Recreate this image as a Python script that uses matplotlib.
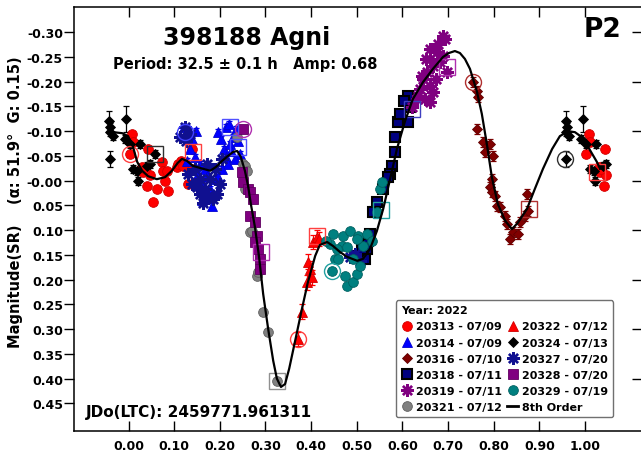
import matplotlib
matplotlib.use("Agg")
import matplotlib.pyplot as plt
from matplotlib.lines import Line2D
import numpy as np

plt.rcParams["font.family"] = "DejaVu Sans"
plt.rcParams["font.weight"] = "bold"
plt.rcParams["axes.unicode_minus"] = False

# ---------------------------------------------------------------------
#  Data (phase, reduced magnitude)
# ---------------------------------------------------------------------
# 20313 - 07/09 (red circles)
s20313_x = [0.003, 0.008, 0.010, 0.030, 0.032, 0.041, 0.043, 0.047, 0.054, 0.062, 0.073, 0.076,
            0.080, 0.084, 0.087, 0.106, 0.108, 0.115, 0.130, 0.139, 0.139, 0.036, 0.120]
s20313_y = [-0.054, -0.094, -0.078, -0.028, -0.018, 0.011, -0.064, -0.012, 0.043, 0.017, -0.038, -0.020,
            0.001, -0.020, 0.021, -0.028, -0.034, -0.040, 0.007, -0.064, -0.024, -0.024, -0.030]

# 20314 - 07/09 (blue triangles)
s20314_x = [0.196, 0.203, 0.209, 0.214, 0.218, 0.205, 0.222, 0.229, 0.235, 0.240, 0.244, 0.214, 0.220,
            0.192, 0.183, 0.196, 0.233, 0.135, 0.146, 0.157, 0.168, 0.152, 0.139, 0.130, 0.122, 0.148,
            0.128, 0.163, 0.179, 0.225, 0.188, 0.172, 0.160]
s20314_y = [-0.098, -0.084, -0.064, -0.048, -0.034, -0.024, -0.074, -0.088, -0.104, -0.080, -0.054, -0.108, -0.115,
            -0.003, 0.051, -0.007, -0.044, -0.064, -0.048, -0.034, -0.024, -0.014, -0.084, -0.094, -0.108, -0.100,
            -0.040, 0.007, 0.017, -0.060, 0.030, -0.010, 0.040]

# 20316 - 07/10 (dark red diamonds)
s20316_x = [0.755, 0.763, 0.766, 0.763, 0.777, 0.785, 0.792, 0.781, 0.798, 0.796, 0.792, 0.796,
            0.803, 0.807, 0.814, 0.825, 0.829, 0.842, 0.853, 0.836, 0.858, 0.869, 0.873, 0.875]
s20316_y = [-0.199, -0.181, -0.169, -0.104, -0.078, -0.070, -0.074, -0.058, -0.050, -0.003, 0.013, 0.023,
            0.031, 0.051, 0.053, 0.071, 0.087, 0.104, 0.108, 0.118, 0.083, 0.071, 0.027, 0.061]

# 20318 - 07/11 (navy squares)
s20318_x = [0.612, 0.617, 0.590, 0.612, 0.584, 0.584, 0.577, 0.573, 0.569, 0.544, 0.540, 0.536,
            0.525, 0.522, 0.518, 0.503, 0.511, 0.529, 0.558, 0.595, 0.604]
s20318_y = [-0.171, -0.149, -0.119, -0.119, -0.088, -0.058, -0.030, -0.014, -0.007, 0.043, 0.063, 0.063,
            0.122, 0.138, 0.158, 0.152, 0.138, 0.108, 0.017, -0.135, -0.161]

# 20319 - 07/11 (purple asterisks)
s20319_x = [0.689, 0.660, 0.676, 0.654, 0.667, 0.682, 0.698, 0.645, 0.660, 0.667, 0.639, 0.632,
            0.650, 0.660, 0.634, 0.693, 0.689, 0.643, 0.660, 0.678, 0.652, 0.674, 0.621]
s20319_y = [-0.292, -0.266, -0.260, -0.220, -0.232, -0.240, -0.220, -0.205, -0.191, -0.179, -0.185, -0.165,
            -0.165, -0.159, -0.171, -0.286, -0.252, -0.212, -0.246, -0.276, -0.246, -0.205, -0.149]

# 20321 - 07/12 (gray circles)
s20321_x = [0.238, 0.251, 0.255, 0.260, 0.255, 0.266, 0.271, 0.281, 0.284, 0.295, 0.306, 0.325]
s20321_y = [-0.088, -0.034, -0.030, -0.020, 0.017, 0.104, 0.102, 0.193, 0.185, 0.265, 0.306, 0.404]

# 20322 - 07/12 (red triangles)
s20322_x = [0.372, 0.380, 0.391, 0.393, 0.402, 0.404, 0.413, 0.417, 0.398]
s20322_y = [0.320, 0.265, 0.205, 0.164, 0.195, 0.124, 0.114, 0.118, 0.178]

# 20324 - 07/13 (black diamonds)
s20324_x = [0.958, 0.995, 0.959, 0.966, 0.960, 0.959, 0.992, 0.003, 0.010, 0.021, 0.025, 0.047,
            0.058, 0.019, 0.040]
s20324_y = [-0.120, -0.125, -0.098, -0.090, -0.108, -0.044, -0.084, -0.074, -0.024, 0.001, -0.074, -0.034,
            -0.054, -0.020, -0.030]
s20324_e = [0.020, 0.026, 0.008, 0.008, 0.008, 0.016, 0.008, 0.008, 0.008, 0.008, 0.008, 0.008,
            0.008, 0.008, 0.008]

# 20327 - 07/20 (dark blue asterisks)
s20327_x = [0.146, 0.157, 0.168, 0.174, 0.185, 0.194, 0.200, 0.179, 0.157, 0.139, 0.190, 0.172,
            0.130, 0.124, 0.135, 0.113, 0.126, 0.205, 0.496, 0.507, 0.485, 0.163, 0.150]
s20327_y = [-0.024, -0.003, 0.017, 0.031, 0.037, 0.027, 0.007, -0.003, 0.027, 0.007, -0.024, -0.034,
            -0.014, -0.108, -0.094, -0.088, -0.080, -0.044, 0.148, 0.162, 0.154, 0.045, 0.012]

# 20328 - 07/20 (purple squares)
s20328_x = [0.251, 0.251, 0.262, 0.266, 0.273, 0.266, 0.277, 0.281, 0.277, 0.284, 0.288, 0.288, 0.249]
s20328_y = [-0.104, 0.003, 0.017, 0.023, 0.037, 0.071, 0.083, 0.112, 0.124, 0.138, 0.158, 0.178, -0.018]

# 20329 - 07/19 (teal circles)
s20329_x = [0.448, 0.470, 0.468, 0.485, 0.503, 0.457, 0.479, 0.452, 0.446, 0.459, 0.474, 0.479,
            0.492, 0.501, 0.507, 0.492, 0.514, 0.522, 0.533, 0.551, 0.555, 0.544, 0.501, 0.441, 0.433]
s20329_y = [0.108, 0.112, 0.132, 0.102, 0.112, 0.138, 0.134, 0.158, 0.182, 0.158, 0.193, 0.213,
            0.205, 0.188, 0.172, 0.158, 0.132, 0.108, 0.122, 0.017, 0.003, 0.063, 0.118, 0.128, 0.122]

# 8th order Fourier fit
fit_x = [-0.045, -0.034, -0.014, -0.001, 0.010, 0.019, 0.030, 0.043, 0.062, 0.080, 0.095, 0.108,
         0.117, 0.128, 0.141, 0.163, 0.179, 0.192, 0.205, 0.218, 0.229, 0.238, 0.246, 0.255,
         0.262, 0.268, 0.277, 0.286, 0.295, 0.306, 0.317, 0.325, 0.334, 0.343, 0.352, 0.365,
         0.380, 0.393, 0.409, 0.419, 0.435, 0.448, 0.463, 0.479, 0.501, 0.514, 0.529, 0.544,
         0.558, 0.573, 0.588, 0.606, 0.623, 0.645, 0.667, 0.689, 0.702, 0.715, 0.726, 0.737,
         0.748, 0.763, 0.774, 0.785, 0.796, 0.809, 0.825, 0.840, 0.853, 0.873, 0.890, 0.908,
         0.928, 0.945, 0.963, 0.978, 0.993, 1.007, 1.026, 1.033]
fit_y = [-0.098, -0.098, -0.096, -0.090, -0.068, -0.038, -0.020, -0.009, -0.003, -0.007, -0.020, -0.036,
         -0.044, -0.040, -0.030, -0.024, -0.020, -0.028, -0.040, -0.050, -0.058, -0.060, -0.048, -0.020,
         0.011, 0.047, 0.094, 0.154, 0.229, 0.300, 0.364, 0.400, 0.417, 0.411, 0.380, 0.324,
         0.259, 0.205, 0.152, 0.130, 0.124, 0.132, 0.144, 0.154, 0.162, 0.158, 0.138, 0.102,
         0.057, -0.003, -0.064, -0.121, -0.165, -0.199, -0.226, -0.250, -0.258, -0.262, -0.258, -0.246,
         -0.226, -0.181, -0.135, -0.074, -0.007, 0.047, 0.081, 0.098, 0.085, 0.057, 0.017, -0.024,
         -0.064, -0.090, -0.100, -0.098, -0.088, -0.068, -0.038, -0.024]

# large open marks at the start/end of each night
ring_x = [0.003, 0.058, 0.124, 0.141, 0.222, 0.240, 0.251, 0.290, 0.325, 0.372, 0.413, 0.446,
          0.553, 0.621, 0.698, 0.755, 0.877, 0.956, 1.026]
ring_y = [-0.054, -0.054, -0.098, -0.058, -0.108, -0.068, -0.104, 0.144, 0.404, 0.320, 0.112, 0.182,
          0.060, -0.145, -0.230, -0.199, 0.057, -0.044, -0.018]
ring_marker = ["o", "s", "o", "s", "s", "s", "o", "s", "s", "o", "s", "o",
               "s", "s", "s", "o", "s", "o", "s"]
ring_color = ["#ff4040", "#303030", "#4040ff", "#ff4040", "#5050ff", "#5050ff", "#b030b0", "#b030b0",
              "#909090", "#ff4040", "#ff4040", "#20a0a0", "#20a0a0", "#4040c0", "#b030b0", "#b03030",
              "#b03030", "#303030", "#ff4040"]

ASTER = (8, 2, 0)

sessions = [
    ("20313 - 07/09", s20313_x, s20313_y, 0.004, dict(marker="o", mfc="#ff0000", mec="#d00000", ms=7, mew=0.6), "#ff0000"),
    ("20314 - 07/09", s20314_x, s20314_y, 0.006, dict(marker="^", mfc="#0000ff", mec="#0000d0", ms=7, mew=0.6), "#0000ff"),
    ("20316 - 07/10", s20316_x, s20316_y, 0.010, dict(marker="D", mfc="#800000", mec="#600000", ms=5, mew=0.6), "#800000"),
    ("20318 - 07/11", s20318_x, s20318_y, 0.006, dict(marker="s", mfc="#000080", mec="#000000", ms=7.5, mew=1.5), "#000080"),
    ("20319 - 07/11", s20319_x, s20319_y, 0.005, dict(marker=ASTER, mfc="#800080", mec="#800080", ms=9, mew=1.7), "#800080"),
    ("20321 - 07/12", s20321_x, s20321_y, 0.006, dict(marker="o", mfc="#808080", mec="#606060", ms=7, mew=0.6), "#808080"),
    ("20322 - 07/12", s20322_x, s20322_y, 0.015, dict(marker="^", mfc="#ff0000", mec="#d00000", ms=7, mew=0.6), "#ff0000"),
    ("20324 - 07/13", s20324_x, s20324_y, s20324_e, dict(marker="D", mfc="#000000", mec="#000000", ms=5, mew=0.6), "#000000"),
    ("20327 - 07/20", s20327_x, s20327_y, 0.005, dict(marker=ASTER, mfc="#101090", mec="#101090", ms=9, mew=1.7), "#101090"),
    ("20328 - 07/20", s20328_x, s20328_y, 0.005, dict(marker="s", mfc="#800080", mec="#600060", ms=7, mew=0.6), "#800080"),
    ("20329 - 07/19", s20329_x, s20329_y, 0.004, dict(marker="o", mfc="#008080", mec="#006060", ms=7, mew=0.6), "#008080"),
]


def wrap(x, y, e):
    """Repeat points near phase 0/1 so the plot covers -0.05 .. 1.05."""
    x = np.asarray(x, float)
    y = np.asarray(y, float)
    e = np.broadcast_to(np.asarray(e, float), x.shape)
    lo = x < 0.05
    hi = x > 0.95
    return (np.concatenate([x, x[lo] + 1, x[hi] - 1]),
            np.concatenate([y, y[lo], y[hi]]),
            np.concatenate([e, e[lo], e[hi]]))


fig = plt.figure(figsize=(6.41, 4.52), dpi=100)
W, H = 641, 452
ax = fig.add_axes([74 / W, (H - 432) / H, (642 - 74) / W, (432 - 8) / H])

handles = []
for label, xs, ys, err, st, col in sessions:
    px, py, pe = wrap(xs, ys, err)
    ax.errorbar(px, py, yerr=pe, fmt="none", ecolor=col, elinewidth=0.9,
                capsize=2.5, capthick=0.9, zorder=2)
    ax.plot(px, py, linestyle="none", zorder=3, **st)
    handles.append(Line2D([], [], linestyle="none", label=label, **st))

for rx, ry, rm, rc in zip(ring_x, ring_y, ring_marker, ring_color):
    ax.plot(rx, ry, linestyle="none", marker=rm, mfc="none", mec=rc,
            ms=11.5 if rm == "o" else 11, mew=1.0, zorder=4)

ax.plot(fit_x, fit_y, color="black", lw=1.6, zorder=5)
handles.append(Line2D([], [], color="black", lw=2, label="8th Order"))

ax.set_xlim(-0.1194, 1.1249)
ax.set_ylim(0.506, -0.351)

xt = np.round(np.arange(0, 1.001, 0.1), 2)
ax.set_xticks(xt)
ax.set_xticklabels([f"{v:.2f}" for v in xt])
yt = np.round(np.arange(-0.30, 0.451, 0.05), 2)
ax.set_yticks(yt)
ax.set_yticklabels([f"{v:.2f}" for v in yt])
ax.tick_params(axis="x", direction="in", length=7, width=1, top=True, labelsize=9, pad=6)
ax.tick_params(axis="y", direction="out", length=7, width=1, labelsize=9, pad=1)
for sp in ax.spines.values():
    sp.set_linewidth(1.1)
ax.spines["right"].set_visible(False)

ax2 = ax.twinx()
ax2.set_ylim(ax.get_ylim())
ax2.set_yticks(np.round(np.arange(-0.30, 0.401, 0.1), 2))
ax2.tick_params(axis="y", direction="in", length=7, width=1, labelright=False)
for sp in ax2.spines.values():
    sp.set_visible(False)

leg = ax.legend(handles=handles, ncol=2, loc="lower left", bbox_to_anchor=(0.567, 0.033),
                borderaxespad=0, fontsize=8, title="Year: 2022",
                title_fontproperties={"weight": "bold", "size": 8}, alignment="left",
                handlelength=1.0, handletextpad=0.35, columnspacing=0.45,
                labelspacing=0.55, borderpad=0.45, fancybox=True, framealpha=1,
                edgecolor="#707070")
leg.get_frame().set_linewidth(1.0)
leg.set_zorder(10)

fig.text(247 / W, 1 - 38 / H, "398188 Agni", ha="center", va="center", fontsize=17, fontweight="bold")
fig.text(245 / W, 1 - 64 / H, "Period: 32.5 \u00b1 0.1 h   Amp: 0.68", ha="center", va="center",
         fontsize=10.5, fontweight="bold")
fig.text(603 / W, 1 - 30 / H, "P2", ha="center", va="center", fontsize=19, fontweight="bold")
fig.text(86 / W, 1 - 413 / H, "JDo(LTC): 2459771.961311", ha="left", va="center",
         fontsize=11, fontweight="bold")
fig.text(16 / W, 1 - 202 / H, "Magnitude(SR)    (\u03b1: 51.9\u00b0  G: 0.15)", rotation=90,
         ha="center", va="center", fontsize=10.5, fontweight="bold")

fig.savefig("out.png", dpi=100)
